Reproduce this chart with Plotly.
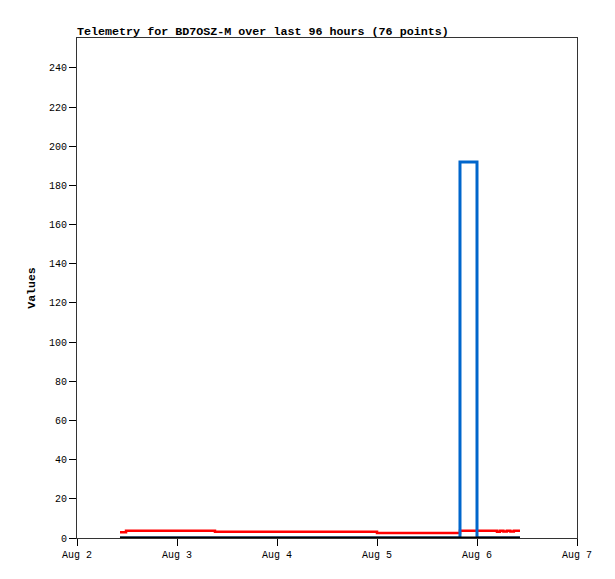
import pandas as pd
import plotly.graph_objects as go

# step points (telemetry channels)
times = [
    "2024-08-02 10:19", "2024-08-02 11:46", "2024-08-03 09:07",
    "2024-08-05 00:00", "2024-08-05 19:55", "2024-08-06 00:00",
    "2024-08-06 04:48", "2024-08-06 05:30", "2024-08-06 06:20",
    "2024-08-06 07:10", "2024-08-06 08:00", "2024-08-06 08:50",
    "2024-08-06 10:19",
]
red_vals = [2.9, 3.7, 3.2, 2.6, 3.7, 3.7, 3.2, 3.7, 3.3, 3.7, 3.3, 3.7, 3.7]
blue_vals = [0, 0, 0, 0, 192, 0, 0, 0, 0, 0, 0, 0, 0]
black_vals = [0] * len(times)

x_ticks = ["2024-08-02", "2024-08-03", "2024-08-04", "2024-08-05", "2024-08-06", "2024-08-07"]
x_labels = ["Aug 2", "Aug 3", "Aug 4", "Aug 5", "Aug 6", "Aug 7"]
y_ticks = list(range(0, 241, 20))

t = pd.to_datetime(times)

fig = go.Figure()
fig.add_trace(go.Scatter(x=t, y=red_vals, mode="lines", line=dict(color="#ff0000", width=2.5, shape="hv")))
fig.add_trace(go.Scatter(x=t, y=blue_vals, mode="lines", line=dict(color="#0066cc", width=3, shape="hv")))
fig.add_trace(go.Scatter(x=t, y=black_vals, mode="lines", line=dict(color="#000000", width=3, shape="hv")))

font = "Liberation Mono, DejaVu Sans Mono, monospace"
# page body adds an 8px offset, so margins are trimmed by 8
fig.update_layout(
    width=615, height=579,
    margin=dict(l=69, r=46, t=30, b=49),
    paper_bgcolor="white", plot_bgcolor="white",
    showlegend=False,
    font=dict(family=font, size=10, color="black"),
    title=dict(text="<b>Telemetry for BD7OSZ-M over last 96 hours (76 points)</b>",
               x=69 / 615, xanchor="left", xref="container",
               y=1 - 23 / 579, yanchor="middle", yref="container",
               font=dict(family=font, size=11.7, color="black")),
)
fig.update_xaxes(
    range=[pd.Timestamp(x_ticks[0]), pd.Timestamp(x_ticks[-1])],
    tickvals=pd.to_datetime(x_ticks), ticktext=x_labels,
    showgrid=False, zeroline=False,
    showline=True, linecolor="#333333", linewidth=1, mirror=True,
    ticks="outside", ticklen=7, tickcolor="#000000",
)
fig.update_yaxes(
    range=[0, 255.3], tickvals=y_ticks,
    showgrid=False, zeroline=False,
    showline=True, linecolor="#333333", linewidth=1, mirror=True,
    ticks="outside", ticklen=7, tickcolor="#000000",
    title=dict(text="<b>Values</b>", font=dict(family=font, size=11.5), standoff=10),
)

fig.write_html("out.html")
